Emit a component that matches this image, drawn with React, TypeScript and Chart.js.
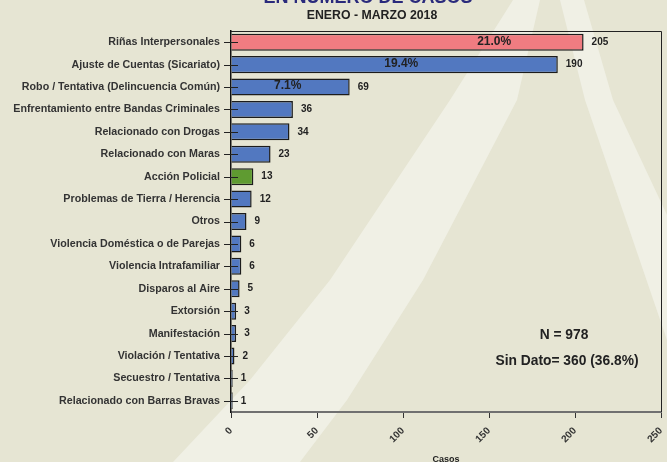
import React, { useEffect, useRef } from "react";
import { Chart, registerables } from "chart.js";

Chart.register(...registerables);

const categories = [
  "Riñas Interpersonales",
  "Ajuste de Cuentas (Sicariato)",
  "Robo / Tentativa (Delincuencia Común)",
  "Enfrentamiento entre Bandas Criminales",
  "Relacionado con Drogas",
  "Relacionado con Maras",
  "Acción Policial",
  "Problemas de Tierra / Herencia",
  "Otros",
  "Violencia Doméstica o de Parejas",
  "Violencia Intrafamiliar",
  "Disparos al Aire",
  "Extorsión",
  "Manifestación",
  "Violación / Tentativa",
  "Secuestro / Tentativa",
  "Relacionado con Barras Bravas",
];
const values = [205, 190, 69, 36, 34, 23, 13, 12, 9, 6, 6, 5, 3, 3, 2, 1, 1];
const percentLabels = ["21.0%", "19.4%", "7.1%"];
const percentAt = [153, 99, 33];
const xTicks = [0, 50, 100, 150, 200, 250];
const titleText = "EN NÚMERO DE CASOS";
const subtitleText = "ENERO - MARZO 2018";
const xTitle = "Casos";
const noteLines = ["N = 978", "Sin Dato= 360 (36.8%)"];

const BG = "#E6E5D3";
const BAND = "#F0F0E5";
const PINK = "#F07C81";
const BLUE = "#5278C0";
const GREEN = "#5F9B31";
const FONT = "'Liberation Sans', Arial, sans-serif";

const barColors = values.map((_, i) => (i === 0 ? PINK : i === 6 ? GREEN : BLUE));

const decorPlugin = {
  id: "decor",
  beforeDraw(chart: any) {
    const ctx = chart.ctx;
    const W = chart.width;
    const H = chart.height;
    ctx.save();
    ctx.fillStyle = BG;
    ctx.fillRect(0, 0, W, H);
    ctx.fillStyle = BAND;
    // left leg of the background "A"
    ctx.beginPath();
    ctx.moveTo(513, 0);
    ctx.lineTo(540, 0);
    ctx.lineTo(517, 100);
    ctx.lineTo(423, 280);
    ctx.lineTo(347, 400);
    ctx.lineTo(300, 462);
    ctx.lineTo(173, 462);
    ctx.lineTo(250, 380);
    ctx.lineTo(330, 280);
    ctx.lineTo(450, 100);
    ctx.closePath();
    ctx.fill();
    // right leg
    ctx.beginPath();
    ctx.moveTo(560, 0);
    ctx.lineTo(584, 0);
    ctx.lineTo(613, 100);
    ctx.lineTo(667, 215);
    ctx.lineTo(667, 340);
    ctx.lineTo(585, 100);
    ctx.closePath();
    ctx.fill();

    // titles
    ctx.textAlign = "center";
    ctx.fillStyle = "#2A2A7C";
    ctx.font = `bold 18px ${FONT}`;
    ctx.textBaseline = "alphabetic";
    ctx.fillText(titleText, 368, 3);
    ctx.fillStyle = "#222";
    ctx.font = `bold 12.3px ${FONT}`;
    ctx.textBaseline = "middle";
    ctx.fillText(subtitleText, 372, 16);
    ctx.restore();
  },
  afterDatasetsDraw(chart: any) {
    const ctx = chart.ctx;
    const area = chart.chartArea;
    const meta = chart.getDatasetMeta(0);
    const xs = chart.scales.x;
    ctx.save();
    // frame lines (top, right)
    ctx.strokeStyle = "#222";
    ctx.lineWidth = 1;
    ctx.beginPath();
    ctx.moveTo(area.left, area.top + 0.5);
    ctx.lineTo(area.right + 0.5, area.top + 0.5);
    ctx.lineTo(area.right + 0.5, area.bottom);
    ctx.stroke();
    // y ticks crossing axis
    ctx.strokeStyle = "#222";
    meta.data.forEach((bar: any) => {
      const y = Math.round(bar.y) + 0.5;
      ctx.beginPath();
      ctx.moveTo(area.left - 7, y);
      ctx.lineTo(area.left + 7, y);
      ctx.stroke();
    });
    // value labels
    ctx.fillStyle = "#222";
    ctx.font = `bold 10px ${FONT}`;
    ctx.textAlign = "left";
    ctx.textBaseline = "middle";
    meta.data.forEach((bar: any, i: number) => {
      ctx.fillText(String(values[i]), bar.x + 8, bar.y);
    });
    // percentage labels
    ctx.font = `bold 12px ${FONT}`;
    ctx.textAlign = "center";
    percentLabels.forEach((t, i) => {
      const bar = meta.data[i];
      ctx.fillText(t, xs.getPixelForValue(percentAt[i]), bar.y - 1);
    });
    // notes
    ctx.font = `bold 13.8px ${FONT}`;
    ctx.fillText(noteLines[0], 564, 335);
    ctx.fillText(noteLines[1], 567, 361);
    // x title
    ctx.font = `bold 9px ${FONT}`;
    ctx.textBaseline = "top";
    ctx.fillText(xTitle, (area.left + area.right) / 2, 455);
    ctx.restore();
  },
};

export default function App() {
  const ref = useRef<HTMLCanvasElement | null>(null);
  useEffect(() => {
    if (!ref.current) return;
    const chart = new Chart(ref.current, {
      type: "bar",
      data: {
        labels: categories,
        datasets: [
          {
            data: values,
            backgroundColor: barColors,
            borderColor: "#1c1c1c",
            borderWidth: 1.5,
            categoryPercentage: 1,
            barPercentage: 0.76,
          },
        ],
      },
      options: {
        indexAxis: "y",
        animation: false,
        responsive: false,
        devicePixelRatio: 1,
        layout: { padding: { left: 0, right: 6, top: 31, bottom: 0 } },
        plugins: {
          legend: { display: false },
          tooltip: { enabled: false },
          title: { display: false },
        },
        scales: {
          x: {
            type: "linear",
            min: 0,
            max: 250,
            afterBuildTicks: (scale: any) => {
              scale.ticks = xTicks.map((v) => ({ value: v }));
            },
            afterFit: (scale: any) => {
              scale.height = 50;
              scale.paddingLeft = 0;
              scale.paddingRight = 0;
            },
            grid: {
              drawOnChartArea: false,
              drawTicks: true,
              tickLength: 6,
              color: "#333",
              lineWidth: 1,
            },
            border: { display: true, color: "#707070", width: 2 },
            ticks: {
              minRotation: 45,
              maxRotation: 45,
              padding: 7,
              color: "#333",
              font: { family: FONT, size: 10, weight: "bold" },
            },
          },
          y: {
            afterFit: (scale: any) => {
              scale.width = 231;
              scale.paddingTop = 0;
              scale.paddingBottom = 0;
            },
            grid: { display: false, drawTicks: false },
            border: { display: true, color: "#111", width: 1.5 },
            ticks: {
              padding: 11,
              color: "#333",
              autoSkip: false,
              font: { family: FONT, size: 10.7, weight: "bold" },
            },
          },
        },
      },
      plugins: [decorPlugin],
    } as any);
    return () => chart.destroy();
  }, []);
  return (
    <div style={{ position: "fixed", left: 0, top: 0, width: 667, height: 462 }}>
      <canvas ref={ref} width={667} height={462} style={{ display: "block" }} />
    </div>
  );
}
